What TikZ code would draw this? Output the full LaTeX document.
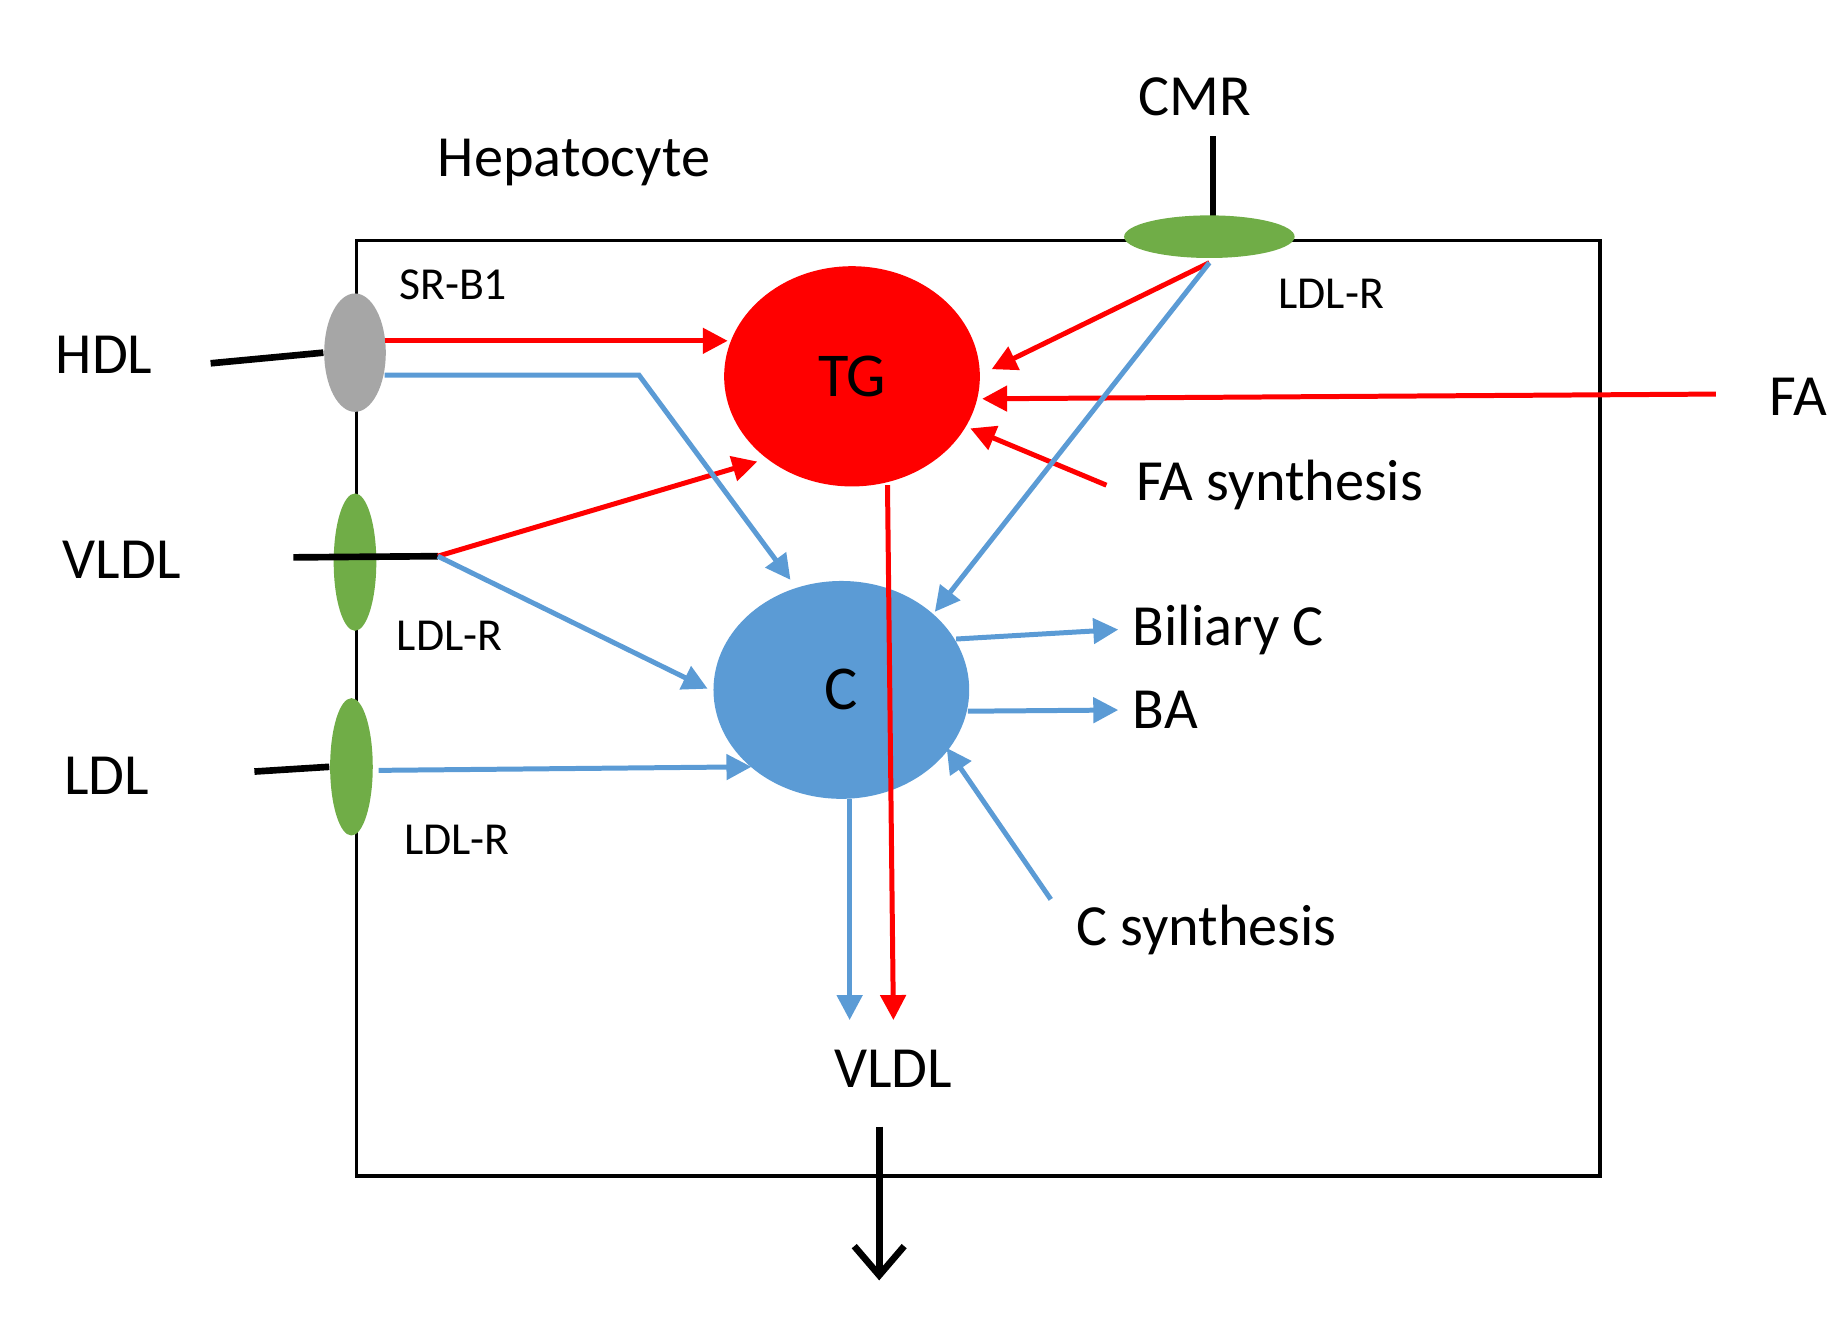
\documentclass[tikz,border=0pt]{standalone}
\usepackage{fontspec}
\setmainfont{Carlito}
\usetikzlibrary{arrows.meta,shapes.geometric}
\definecolor{rd}{HTML}{FF0000}
\definecolor{bl}{HTML}{5B9BD5}
\definecolor{gr}{HTML}{70AD47}
\definecolor{gy}{HTML}{A6A6A6}
\begin{document}
\begin{tikzpicture}[x=0.01cm,y=-0.01cm,
 lab/.style={font=\fontsize{14}{16}\selectfont},
 slab/.style={font=\fontsize{11}{13}\selectfont},
 ra/.style={draw=rd,line width=1.2pt,-{Triangle[length=6pt,width=6pt]}},
 ba/.style={draw=bl,line width=1.2pt,-{Triangle[length=6pt,width=6pt]}},
 bk/.style={draw=black,line width=1.6pt}]
\useasboundingbox (0,0) rectangle (1560,1126);
\node[draw,thick,minimum width=10.5cm,minimum height=7.9cm,anchor=north west,inner sep=0] (box) at (300,202) {};
\node[lab] (hep) at (485,137) {Hepatocyte};
\node[lab] (cmr) at (1010,82) {CMR};
\coordinate (cmrt) at (1025,115);
\coordinate (cmrb) at (1025,190);
\draw[bk] (cmrt) -- (cmrb);
\node[ellipse,fill=gr,minimum width=1.44cm,minimum height=0.36cm,inner sep=0] (e1) at (1022,200) {};
\node[slab] (l1) at (1125,248) {LDL-R};
\node[slab] (sr) at (383,241) {SR-B1};
\node[lab] (hdl) at (88,300) {HDL};
\coordinate (hdlt) at (178,307);
\node[ellipse,fill=gy,minimum width=0.52cm,minimum height=1cm,inner sep=0] (e2) at (300,298) {};
\draw[bk] (hdlt) -- (e2.west);
\node[lab] (vldl) at (103,473) {VLDL};
\coordinate (vt) at (248,471);
\coordinate (vh) at (370,470);
\node[ellipse,fill=gr,minimum width=0.36cm,minimum height=1.16cm,inner sep=0] (e3) at (300,475) {};
\draw[bk] (vt) -- (vh);
\node[slab] (l2) at (380,537) {LDL-R};
\node[lab] (ldl) at (90,656) {LDL};
\coordinate (lt) at (215,652);
\node[ellipse,fill=gr,minimum width=0.36cm,minimum height=1.16cm,inner sep=0] (e4) at (297,648) {};
\draw[bk] (lt) -- (e4.west);
\node[slab] (l3) at (386,710) {LDL-R};
\node[ellipse,fill=rd,minimum width=2.16cm,minimum height=1.86cm,inner sep=0,font=\fontsize{15}{17}\selectfont] (tg) at (720,318) {TG};
\node[ellipse,fill=bl,minimum width=2.16cm,minimum height=1.84cm,inner sep=0,font=\fontsize{15}{17}\selectfont] (c) at (711,583) {C};
\node[lab,anchor=west] (fa) at (1483,335) {FA};
\node[lab,anchor=west] (fas) at (948,410) {FA synthesis};
\node[lab,anchor=west] (bc) at (945,532) {Biliary C};
\node[lab,anchor=west] (baa) at (945,600) {BA};
\node[lab,anchor=west] (cs) at (897,786) {C synthesis};
\node[lab] (vout) at (755,903) {VLDL};
\coordinate (cp) at (1022,222);
\coordinate (fat) at (1450,333);
\coordinate (fast) at (935,410);
\coordinate (cst) at (888,760);
\coordinate (hr) at (325,288);
\coordinate (hb) at (325,317);
\coordinate (hbk) at (540,317);
\coordinate (lr) at (320,651);
\coordinate (tgb) at (750,410);
\coordinate (vr) at (755,862);
\coordinate (cb) at (718,675);
\coordinate (vb) at (718,862);
\coordinate (bot) at (743,1082);
\coordinate (top) at (743,952);
\draw[ra] (hr) -- (615,288);
\draw[ra] (cp) -- (838,312);
\draw[ra] (fat) -- (830,337);
\draw[ra] (fast) -- (820,362);
\draw[ra] (vh) -- (640,390);
\draw[ra] (tgb) -- (vr);
\draw[ba] (hb) -- (hbk) -- (668,490);
\draw[ba] (cp) -- (790,517);
\draw[ba] (vh) -- (598,582);
\draw[ba] (lr) -- (635,648);
\draw[ba] (808,540) -- (bc.west);
\draw[ba] (818,601) -- (baa.west);
\draw[ba] (cst) -- (800,632);
\draw[ba] (cb) -- (vb);
\draw[bk,-{Straight Barb[length=7pt,width=12pt]}] (top) -- (bot);
\end{tikzpicture}
\end{document}
